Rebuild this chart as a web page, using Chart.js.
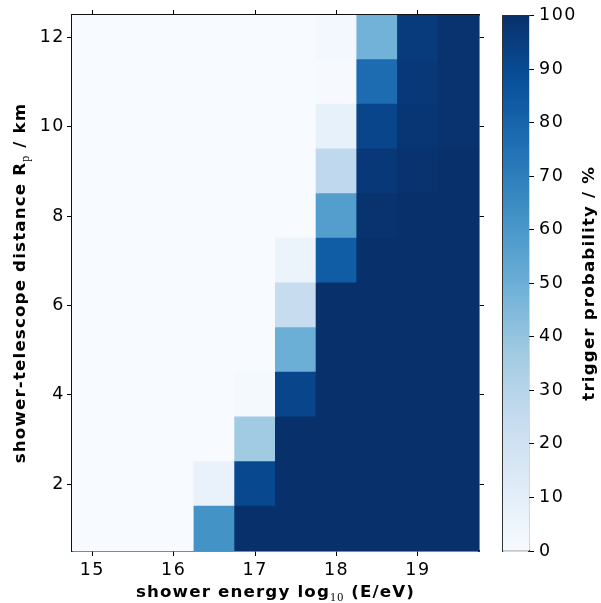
<!DOCTYPE html>
<html><head><meta charset="utf-8">
<script src="https://cdn.jsdelivr.net/npm/chart.js@4.4.0/dist/chart.umd.min.js"></script>
<style>
html,body{margin:0;padding:0;background:#fff;}
#wrap{position:relative;width:601px;height:603px;}
canvas{position:absolute;left:0;top:0;}
</style></head><body>
<div id="wrap"><canvas id="main" width="601" height="603"></canvas><canvas id="cbar" width="601" height="603"></canvas></div>
<script>
// ---- data ----
const energies = [15, 15.5, 16, 16.5, 17, 17.5, 18, 18.5, 19, 19.5];   // log10(E/eV) bin centres
const distances = [1, 2, 3, 4, 5, 6, 7, 8, 9, 10, 11, 12];             // Rp / km bin centres
const probRp1  = [0, 0, 0, 62, 100, 100, 100, 100, 100, 100];
const probRp2  = [0, 0, 0, 7, 91, 100, 100, 100, 100, 100];
const probRp3  = [0, 0, 0, 0, 37, 100, 100, 100, 100, 100];
const probRp4  = [0, 0, 0, 0, 1.5, 92, 100, 100, 100, 100];
const probRp5  = [0, 0, 0, 0, 0, 50, 100, 100, 100, 100];
const probRp6  = [0, 0, 0, 0, 0, 24, 100, 100, 100, 100];
const probRp7  = [0, 0, 0, 0, 0, 6, 83, 100, 100, 100];
const probRp8  = [0, 0, 0, 0, 0, 0, 57, 99, 100, 100];
const probRp9  = [0, 0, 0, 0, 0, 0, 27, 97, 99, 100];
const probRp10 = [0, 0, 0, 0, 0, 0, 8, 92, 98, 99];
const probRp11 = [0, 0, 0, 0, 0, 0, 0.5, 77, 97, 99];
const probRp12 = [0, 0, 0, 0, 0, 0, 2, 48, 96, 99];
const probRows = [probRp1, probRp2, probRp3, probRp4, probRp5, probRp6, probRp7, probRp8, probRp9, probRp10, probRp11, probRp12];
const xTicks = [15, 16, 17, 18, 19];
const yTicks = [2, 4, 6, 8, 10, 12];
const cbarTicks = [0, 10, 20, 30, 40, 50, 60, 70, 80, 90, 100];

// ---- colormap (matplotlib Blues) ----
const BLUES = ['#f7fbff','#deebf7','#c6dbef','#9ecae1','#6baed6','#4292c6','#2171b5','#08519c','#08306b'];
const BLUES_RGB = BLUES.map(h => [parseInt(h.slice(1,3),16), parseInt(h.slice(3,5),16), parseInt(h.slice(5,7),16)]);
function blues(v) {
  const t = Math.max(0, Math.min(1, v / 100)) * (BLUES.length - 1);
  const i = Math.min(Math.floor(t), BLUES.length - 2);
  const f = t - i, a = BLUES_RGB[i], b = BLUES_RGB[i + 1];
  return `rgb(${Math.round(a[0]+(b[0]-a[0])*f)},${Math.round(a[1]+(b[1]-a[1])*f)},${Math.round(a[2]+(b[2]-a[2])*f)})`;
}

const FONT = 'DejaVu Sans';
const FS = 16.7;
const TFS = 17.5;
Chart.defaults.font.family = FONT;
Chart.defaults.font.size = TFS;
Chart.defaults.color = '#000';

function drawRich(ctx, parts, cx, cy, rot) {
  ctx.save();
  ctx.translate(cx, cy);
  ctx.rotate(rot);
  ctx.letterSpacing = '1.15px';
  let total = 0;
  parts.forEach(p => { ctx.font = p.font; p.w = ctx.measureText(p.t).width; total += p.w; });
  let x = -total / 2;
  ctx.textBaseline = 'alphabetic';
  ctx.textAlign = 'left';
  ctx.fillStyle = '#000';
  parts.forEach(p => { ctx.font = p.font; ctx.fillText(p.t, x, p.dy || 0); x += p.w; });
  ctx.restore();
}
const BOLD = `bold ${FS}px "${FONT}"`;
const SUB = `12px "Liberation Serif"`;

const spacingPlugin = {
  id: 'spacing',
  beforeDraw(chart) { chart.ctx.letterSpacing = '1.5px'; }
};

const titlesPlugin = {
  id: 'titles',
  afterDraw(chart) {
    const ctx = chart.ctx, ca = chart.chartArea;
    drawRich(ctx, [
      {t: 'shower energy log', font: BOLD},
      {t: '10', font: SUB, dy: 4},
      {t: ' (E/eV)', font: BOLD}
    ], (ca.left + ca.right) / 2, 597, 0);
    drawRich(ctx, [
      {t: 'shower-telescope distance R', font: BOLD},
      {t: 'p', font: SUB, dy: 4},
      {t: ' / km', font: BOLD}
    ], 25, (ca.top + ca.bottom) / 2, -Math.PI / 2);
  }
};

const tickGrid = {display: true, drawOnChartArea: false, drawTicks: true, tickLength: 5, color: '#000', lineWidth: 1, offset: false};
const mainBorder = {display: true, color: '#111', width: 1.5};

const datasets = distances.map((d, r) => ({
  data: energies.map(e => ({x: e, y: [d - 0.5, d + 0.5]})),
  backgroundColor: probRows[r].map(blues),
  borderWidth: 0,
  grouped: false,
  barPercentage: 1,
  categoryPercentage: 1,
  inflateAmount: 0.5
}));

new Chart(document.getElementById('main'), {
  type: 'bar',
  data: {datasets},
  options: {
    responsive: false,
    animation: false,
    events: [],
    layout: {padding: {left: 0, right: 117, top: 0, bottom: 0}},
    plugins: {legend: {display: false}, tooltip: {enabled: false}},
    scales: {
      x: {
        type: 'linear', position: 'bottom', min: 14.75, max: 19.75, offset: false,
        grid: tickGrid, border: mainBorder,
        ticks: {padding: 4, color: '#000', font: {size: TFS}},
        afterBuildTicks: s => { s.ticks = xTicks.map(v => ({value: v})); },
        afterFit: s => { s.height = 52; }
      },
      x2: {
        type: 'linear', position: 'top', min: 14.75, max: 19.75, offset: false,
        grid: tickGrid, border: mainBorder,
        ticks: {display: false},
        afterBuildTicks: s => { s.ticks = xTicks.map(v => ({value: v})); },
        afterFit: s => { s.height = 15; }
      },
      y: {
        type: 'linear', position: 'left', min: 0.5, max: 12.5, beginAtZero: false,
        grid: tickGrid, border: mainBorder,
        ticks: {padding: 2, color: '#000', font: {size: TFS}},
        afterBuildTicks: s => { s.ticks = yTicks.map(v => ({value: v})); },
        afterFit: s => { s.width = 72; }
      },
      y2: {
        type: 'linear', position: 'right', min: 0.5, max: 12.5,
        grid: tickGrid, border: mainBorder,
        ticks: {display: false},
        afterBuildTicks: s => { s.ticks = yTicks.map(v => ({value: v})); },
        afterFit: s => { s.width = 5; }
      }
    }
  },
  plugins: [spacingPlugin, titlesPlugin]
});

// ---- colour bar ----
function cbarGradient(chart) {
  const ca = chart.chartArea;
  if (!ca) return BLUES[4];
  const g = chart.ctx.createLinearGradient(0, ca.bottom, 0, ca.top);
  BLUES.forEach((c, i) => g.addColorStop(i / (BLUES.length - 1), c));
  return g;
}
const cbTitlePlugin = {
  id: 'cbtitle',
  afterDraw(chart) {
    const ca = chart.chartArea;
    drawRich(chart.ctx, [{t: 'trigger probability / %', font: BOLD}], 594, (ca.top + ca.bottom) / 2, -Math.PI / 2);
  }
};
const cbBorder = {display: true, color: '#333', width: 1.2};
new Chart(document.getElementById('cbar'), {
  type: 'bar',
  data: {labels: ['p'], datasets: [{
    data: [[0, 100]],
    backgroundColor: ctx => cbarGradient(ctx.chart),
    borderWidth: 0, barPercentage: 1, categoryPercentage: 1
  }]},
  options: {
    responsive: false,
    animation: false,
    events: [],
    layout: {padding: {left: 503, right: 0, top: 15, bottom: 0}},
    plugins: {legend: {display: false}, tooltip: {enabled: false}},
    scales: {
      x: {position: 'bottom', grid: {display: false}, border: cbBorder, ticks: {display: false}, afterFit: s => { s.height = 52; }},
      xT: {type: 'category', position: 'top', grid: {display: false}, border: cbBorder, ticks: {display: false}, afterFit: s => { s.height = 0; }},
      y: {
        type: 'linear', position: 'right', min: 0, max: 100,
        grid: {display: true, drawOnChartArea: false, drawTicks: true, tickLength: 5, color: '#000', lineWidth: 1},
        border: cbBorder,
        ticks: {padding: 5, color: '#000', font: {size: TFS}},
        afterBuildTicks: s => { s.ticks = cbarTicks.map(v => ({value: v})); },
        afterFit: s => { s.width = 72; }
      },
      yL: {
        type: 'linear', position: 'left', min: 0, max: 100,
        grid: {display: false}, border: cbBorder, ticks: {display: false},
        afterFit: s => { s.width = 0; }
      }
    }
  },
  plugins: [spacingPlugin, cbTitlePlugin]
});
</script>
</body></html>
